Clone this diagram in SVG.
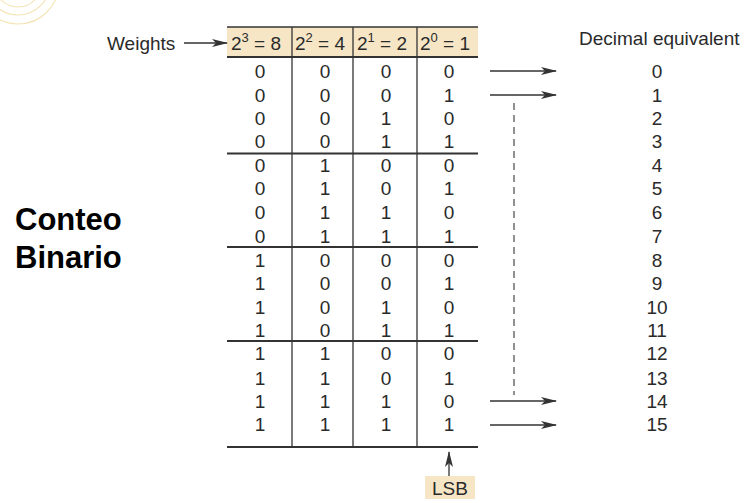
<svg xmlns="http://www.w3.org/2000/svg" width="750" height="503" viewBox="0 0 750 503">
<style>
.t{font-family:"Liberation Sans",Arial,sans-serif;font-size:19px;fill:#2a2a2a;text-anchor:middle}
.h{font-family:"Liberation Sans",Arial,sans-serif;font-size:19px;fill:#2a2a2a}
.thick{stroke:#333;stroke-width:2.2;fill:none}
.thin{stroke:#333;stroke-width:1.3;fill:none}
.arr{stroke:#333;stroke-width:1.3;fill:none;marker-end:url(#ah)}
</style>
<defs>
<marker id="ah" markerWidth="16" markerHeight="8" refX="15" refY="4" orient="auto" markerUnits="userSpaceOnUse">
<path d="M0,0 L16,4 L0,8 L4,4 Z" fill="#333"/>
</marker>
</defs>
<rect width="750" height="503" fill="#fff"/>
<g id="decor" fill="none" stroke="#f4e4b4" stroke-width="1.1">
<circle cx="18" cy="-17" r="41"/>
<circle cx="18" cy="-17" r="32"/>
<circle cx="18" cy="-17" r="24"/>
</g>
<g id="title">
<text x="15" y="230" style="font-family:'Liberation Sans',Arial,sans-serif;font-size:31px;font-weight:bold;fill:#000">Conteo</text>
<text x="15" y="268" style="font-family:'Liberation Sans',Arial,sans-serif;font-size:31px;font-weight:bold;fill:#000">Binario</text>
</g>
<g id="weights">
<text x="107" y="50" class="h">Weights</text>
</g>
<g id="header">
<rect x="227" y="27" width="251" height="30" fill="#f6e6c6"/>
<text x="231" y="50" class="h">2<tspan dy="-8" font-size="13">3</tspan><tspan dy="8"> = 8</tspan></text>
<text x="295" y="50" class="h">2<tspan dy="-8" font-size="13">2</tspan><tspan dy="8"> = 4</tspan></text>
<text x="357" y="50" class="h">2<tspan dy="-8" font-size="13">1</tspan><tspan dy="8"> = 2</tspan></text>
<text x="420" y="50" class="h">2<tspan dy="-8" font-size="13">0</tspan><tspan dy="8"> = 1</tspan></text>
</g>
<g id="table">
<line class="thin" x1="227" y1="27" x2="478" y2="27"/>
<line class="thick" x1="227" y1="57" x2="478" y2="57"/>
<line class="thick" x1="227" y1="153.5" x2="478" y2="153.5"/>
<line class="thick" x1="227" y1="247" x2="478" y2="247"/>
<line class="thick" x1="227" y1="341" x2="478" y2="341"/>
<line class="thick" x1="227" y1="447" x2="478" y2="447"/>
<line class="thin" x1="292" y1="27" x2="292" y2="447"/>
<line class="thin" x1="353" y1="27" x2="353" y2="447"/>
<line class="thin" x1="417" y1="27" x2="417" y2="447"/>
<g class="t">
<text x="260" y="78">0</text><text x="325" y="78">0</text><text x="386" y="78">0</text><text x="449" y="78">0</text>
<text x="260" y="102">0</text><text x="325" y="102">0</text><text x="386" y="102">0</text><text x="449" y="102">1</text>
<text x="260" y="125">0</text><text x="325" y="125">0</text><text x="386" y="125">1</text><text x="449" y="125">0</text>
<text x="260" y="148">0</text><text x="325" y="148">0</text><text x="386" y="148">1</text><text x="449" y="148">1</text>
<text x="260" y="172">0</text><text x="325" y="172">1</text><text x="386" y="172">0</text><text x="449" y="172">0</text>
<text x="260" y="195">0</text><text x="325" y="195">1</text><text x="386" y="195">0</text><text x="449" y="195">1</text>
<text x="260" y="219">0</text><text x="325" y="219">1</text><text x="386" y="219">1</text><text x="449" y="219">0</text>
<text x="260" y="243">0</text><text x="325" y="243">1</text><text x="386" y="243">1</text><text x="449" y="243">1</text>
<text x="260" y="267">1</text><text x="325" y="267">0</text><text x="386" y="267">0</text><text x="449" y="267">0</text>
<text x="260" y="290">1</text><text x="325" y="290">0</text><text x="386" y="290">0</text><text x="449" y="290">1</text>
<text x="260" y="314">1</text><text x="325" y="314">0</text><text x="386" y="314">1</text><text x="449" y="314">0</text>
<text x="260" y="337">1</text><text x="325" y="337">0</text><text x="386" y="337">1</text><text x="449" y="337">1</text>
<text x="260" y="360">1</text><text x="325" y="360">1</text><text x="386" y="360">0</text><text x="449" y="360">0</text>
<text x="260" y="385">1</text><text x="325" y="385">1</text><text x="386" y="385">0</text><text x="449" y="385">1</text>
<text x="260" y="408">1</text><text x="325" y="408">1</text><text x="386" y="408">1</text><text x="449" y="408">0</text>
<text x="260" y="431">1</text><text x="325" y="431">1</text><text x="386" y="431">1</text><text x="449" y="431">1</text>
</g>
</g>
<g id="decimal">
<text x="579" y="45" class="h">Decimal equivalent</text>
<g class="t">
<text x="657" y="78">0</text>
<text x="657" y="102">1</text>
<text x="657" y="125">2</text>
<text x="657" y="148">3</text>
<text x="657" y="172">4</text>
<text x="657" y="195">5</text>
<text x="657" y="219">6</text>
<text x="657" y="243">7</text>
<text x="657" y="267">8</text>
<text x="657" y="290">9</text>
<text x="657" y="314">10</text>
<text x="657" y="337">11</text>
<text x="657" y="360">12</text>
<text x="657" y="385">13</text>
<text x="657" y="408">14</text>
<text x="657" y="431">15</text>
</g>
</g>
<g id="lsb">
<rect x="425" y="476" width="50" height="23" fill="#f6e6c6"/>
<text x="450" y="495" class="t">LSB</text>
</g>
<g id="connectors">
<line class="arr" x1="184" y1="43" x2="227" y2="43"/>
<line class="arr" x1="490" y1="71" x2="556" y2="71"/>
<line class="arr" x1="490" y1="95" x2="556" y2="95"/>
<line class="arr" x1="490" y1="401" x2="556" y2="401"/>
<line class="arr" x1="490" y1="425" x2="556" y2="425"/>
<line x1="514" y1="103" x2="514" y2="395" stroke="#555" stroke-width="1.3" stroke-dasharray="7,5"/>
<line class="arr" x1="449" y1="476" x2="449" y2="452"/>
</g>
</svg>
